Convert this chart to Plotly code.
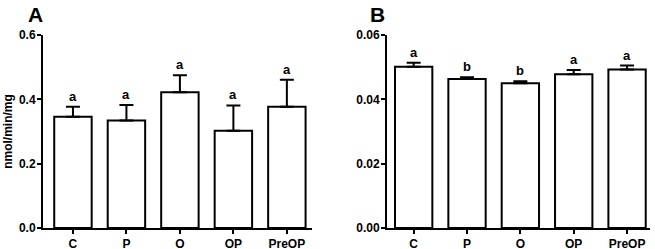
import plotly.graph_objects as go

categories = ["C", "P", "O", "OP", "PreOP"]
a_means = [0.346, 0.334, 0.422, 0.302, 0.377]
a_errs = [0.031, 0.048, 0.053, 0.079, 0.084]
a_letters = ["a", "a", "a", "a", "a"]
b_means = [0.0501, 0.0463, 0.0450, 0.0478, 0.0493]
b_errs = [0.0013, 0.0006, 0.0006, 0.0013, 0.0012]
b_letters = ["a", "b", "b", "a", "a"]

W, H = 655, 249
FONT = "Liberation Sans"

fig = go.Figure()

def add_panel(means, errs, letters, xa, ya):
    fig.add_trace(go.Bar(
        x=categories, y=means, xaxis=xa, yaxis=ya, width=0.7,
        marker=dict(color="white", line=dict(color="black", width=2)),
        error_y=dict(type="data", array=errs, arrayminus=[0]*len(errs), symmetric=False,
                     color="black", thickness=2, width=7),
        showlegend=False, hoverinfo="skip"))
    for c, m, e, t in zip(categories, means, errs, letters):
        fig.add_annotation(x=c, y=m + e, xref=xa, yref=ya.replace("axis", ""), text=t,
                           showarrow=False, yanchor="bottom", yshift=1,
                           font=dict(family=FONT, size=13, color="black", weight="bold"))

add_panel(a_means, a_errs, a_letters, "x", "y")
add_panel(b_means, b_errs, b_letters, "x2", "y2")

ydom = [(H - 228) / H, (H - 35) / H]
tickfont = dict(family=FONT, size=12, color="black", weight="bold")
axcommon = dict(showline=True, linecolor="black", linewidth=2, ticks="outside",
                tickcolor="black", tickwidth=2, showgrid=False, zeroline=False,
                tickfont=tickfont, automargin=False)

fig.update_layout(
    width=W, height=H, margin=dict(l=0, r=0, t=0, b=0, autoexpand=False),
    plot_bgcolor="white", paper_bgcolor="white", bargap=0.3,
    xaxis=dict(domain=[43 / W, 312 / W], range=[-0.56, 4.47], ticklen=4, anchor="y", **axcommon),
    yaxis=dict(domain=ydom, range=[0, 0.6], dtick=0.2, tickformat=".1f", ticklen=4, anchor="x",
               ticklabelstandoff=-1,
               title=dict(text="nmol/min/mg", font=dict(family=FONT, size=12, color="black", weight="bold"),
                          standoff=4),
               **axcommon),
    xaxis2=dict(domain=[387 / W, 650 / W], range=[-0.5, 4.43], ticklen=4, anchor="y2", **axcommon),
    yaxis2=dict(domain=ydom, range=[0, 0.06], dtick=0.02, tickformat=".2f", ticklen=4, anchor="x2",
                ticklabelstandoff=-1, **axcommon),
)

fig.add_annotation(x=35.5 / W, y=1 - 14 / H, xref="paper", yref="paper", text="A", showarrow=False,
                   xanchor="center", yanchor="middle",
                   font=dict(family=FONT, size=21, color="black", weight="bold"))
fig.add_annotation(x=377.5 / W, y=1 - 14 / H, xref="paper", yref="paper", text="B", showarrow=False,
                   xanchor="center", yanchor="middle",
                   font=dict(family=FONT, size=21, color="black", weight="bold"))

fig.write_html("out.html", config={"displayModeBar": False},
               post_script="document.body.style.margin='0';document.body.style.overflow='hidden';")
